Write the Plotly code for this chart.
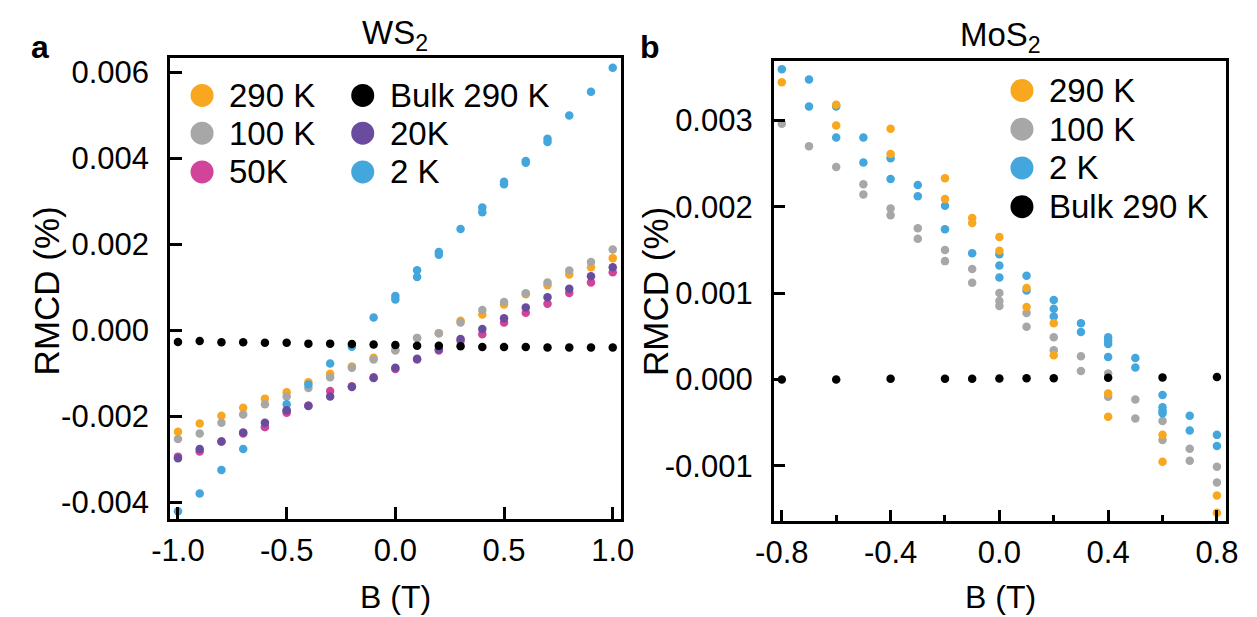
import plotly.graph_objects as go

W, H = 1257, 617
FONT = "Liberation Sans, Arial, Helvetica, sans-serif"

# ---------------- WS2 (panel a) ----------------
ws2_field = [-1.0, -0.9, -0.8, -0.7, -0.6, -0.5, -0.4, -0.3, -0.2, -0.1, 0.0,
             0.1, 0.2, 0.3, 0.4, 0.5, 0.6, 0.7, 0.8, 0.9, 1.0]
ws2_290K = [-0.00236, -0.00217, -0.00199, -0.00180, -0.00159, -0.00144, -0.00121,
            -0.00101, -0.00084, -0.00064, -0.00045, -0.00018, -0.00007, 0.00022,
            0.00037, 0.00060, 0.00084, 0.00105, 0.00130, 0.00147, 0.00168]
ws2_100K = [-0.00253, -0.00240, -0.00215, -0.00196, -0.00172, -0.00154, -0.00134,
            -0.00109, -0.00087, -0.00068, -0.00047, -0.00018, -0.00007, 0.00018,
            0.00047, 0.00066, 0.00086, 0.00111, 0.00139, 0.00159, 0.00188]
ws2_50K = [-0.00294, -0.00282, -0.00259, -0.00240, -0.00225, -0.00192, -0.00175,
           -0.00141, -0.00130, -0.00109, -0.00090, -0.00068, -0.00047, -0.00024,
           -0.00009, 0.00018, 0.00041, 0.00062, 0.00087, 0.00111, 0.00135]
ws2_20K = [-0.00298, -0.00276, -0.00259, -0.00238, -0.00215, -0.00186, -0.00176,
           -0.00154, -0.00132, -0.00111, -0.00087, -0.00066, -0.00044, -0.00020,
           0.00003, 0.00028, 0.00053, 0.00077, 0.00097, 0.00126, 0.00147]
ws2_bulk = [-0.00027, -0.00025, -0.00028, -0.00028, -0.00029, -0.00029, -0.00031,
            -0.00031, -0.00032, -0.00033, -0.00034, -0.00036, -0.00036, -0.00037,
            -0.00039, -0.00039, -0.00039, -0.00040, -0.00040, -0.00040, -0.00040]
ws2_2K_field = [-1.0, -0.9, -0.8, -0.7, -0.6, -0.5, -0.5, -0.4, -0.3, -0.2, -0.1,
                0.0, 0.0, 0.1, 0.1, 0.2, 0.2, 0.3, 0.4, 0.4, 0.5, 0.5, 0.6, 0.6,
                0.7, 0.7, 0.8, 0.9, 1.0]
ws2_2K = [-0.00421, -0.00380, -0.00325, -0.00276, -0.00225, -0.00172, -0.00188,
          -0.00126, -0.00077, -0.00038, 0.00030, 0.00080, 0.00072, 0.00140,
          0.00124, 0.00182, 0.00176, 0.00236, 0.00286, 0.00275, 0.00346,
          0.00340, 0.00394, 0.00390, 0.00446, 0.00438, 0.00500, 0.00555, 0.00611]

ws2_yticks = [-0.004, -0.002, 0.0, 0.002, 0.004, 0.006]
ws2_yticklabels = ["-0.004", "-0.002", "0.000", "0.002", "0.004", "0.006"]
ws2_xticks = [-1.0, -0.5, 0.0, 0.5, 1.0]
ws2_xticklabels = ["-1.0", "-0.5", "0.0", "0.5", "1.0"]

# ---------------- MoS2 (panel b) ----------------
mos2_290K_field = [-0.8, -0.6, -0.6, -0.4, -0.4, -0.2, -0.2, -0.1, -0.1, 0.0, 0.0,
                   0.1, 0.1, 0.2, 0.2, 0.4, 0.4, 0.6, 0.6, 0.8, 0.8]
mos2_290K = [0.00344, 0.00318, 0.00294, 0.00290, 0.00261, 0.00233, 0.00209,
             0.00187, 0.00181, 0.00165, 0.00149, 0.00106, 0.00084, 0.00065,
             0.00028, -0.00016, -0.00043, -0.00064, -0.00095, -0.00134, -0.00154]
mos2_100K_field = [-0.8, -0.7, -0.6, -0.5, -0.5, -0.4, -0.4, -0.3, -0.3, -0.2, -0.2,
                   -0.1, -0.1, 0.0, 0.0, 0.0, 0.1, 0.1, 0.2, 0.2, 0.3, 0.3, 0.4, 0.4,
                   0.5, 0.5, 0.6, 0.6, 0.7, 0.7, 0.8, 0.8]
mos2_100K = [0.00296, 0.00270, 0.00246, 0.00226, 0.00214, 0.00198, 0.00190,
             0.00175, 0.00163, 0.00150, 0.00137, 0.00128, 0.00112, 0.00100,
             0.00091, 0.00085, 0.00077, 0.00061, 0.00049, 0.00034, 0.00027,
             0.00010, 0.00007, -0.00020, -0.00023, -0.00045, -0.00048, -0.00070,
             -0.00080, -0.00094, -0.00101, -0.00119]
mos2_2K_field = [-0.8, -0.7, -0.7, -0.6, -0.6, -0.5, -0.5, -0.4, -0.4, -0.3, -0.3,
                 -0.2, -0.2, -0.1, 0.0, 0.0, 0.0, 0.1, 0.1, 0.2, 0.2, 0.2, 0.3, 0.3,
                 0.4, 0.4, 0.4, 0.4, 0.5, 0.5, 0.6, 0.6, 0.6, 0.6, 0.7, 0.7, 0.8, 0.8]
mos2_2K = [0.00359, 0.00347, 0.00316, 0.00316, 0.00280, 0.00280, 0.00251,
           0.00256, 0.00232, 0.00225, 0.00212, 0.00201, 0.00174, 0.00146,
           0.00145, 0.00132, 0.00118, 0.00120, 0.00103, 0.00092, 0.00082,
           0.00073, 0.00065, 0.00055, 0.00049, 0.00045, 0.00041, 0.00026,
           0.00025, 0.00014, -0.00018, -0.00032, -0.00036, -0.00039, -0.00042,
           -0.00059, -0.00064, -0.00077]
mos2_bulk_field = [-0.8, -0.6, -0.4, -0.2, -0.1, 0.0, 0.1, 0.2, 0.4, 0.6, 0.8]
mos2_bulk = [0.000000, 0.000000, 0.000008, 0.000008, 0.000010, 0.000012,
             0.000015, 0.000015, 0.000020, 0.000023, 0.000030]

mos2_yticks = [-0.001, 0.0, 0.001, 0.002, 0.003]
mos2_yticklabels = ["-0.001", "0.000", "0.001", "0.002", "0.003"]
mos2_xticks = [-0.8, -0.4, 0.0, 0.4, 0.8]
mos2_xticklabels = ["-0.8", "-0.4", "0.0", "0.4", "0.8"]
mos2_xminor = [-0.6, -0.2, 0.2, 0.6]

COLORS = {
    "290 K": "#F9A71E",
    "100 K": "#A7A7A7",
    "50K": "#D2449A",
    "20K": "#6A4C9E",
    "2 K": "#43A6DC",
    "Bulk 290 K": "#000000",
}

MARKER_SIZE = 8.5

fig = go.Figure()


def add_series(x, y, name, xa, ya):
    fig.add_trace(go.Scatter(
        x=x, y=y, mode="markers", name=name, showlegend=False,
        xaxis=xa, yaxis=ya,
        marker=dict(size=MARKER_SIZE, color=COLORS[name], line=dict(width=0)),
    ))


# panel a
add_series(ws2_field, ws2_290K, "290 K", "x", "y")
add_series(ws2_field, ws2_100K, "100 K", "x", "y")
add_series(ws2_2K_field, ws2_2K, "2 K", "x", "y")
add_series(ws2_field, ws2_50K, "50K", "x", "y")
add_series(ws2_field, ws2_20K, "20K", "x", "y")
add_series(ws2_field, ws2_bulk, "Bulk 290 K", "x", "y")

# panel b
add_series(mos2_100K_field, mos2_100K, "100 K", "x2", "y2")
add_series(mos2_2K_field, mos2_2K, "2 K", "x2", "y2")
add_series(mos2_290K_field, mos2_290K, "290 K", "x2", "y2")
add_series(mos2_bulk_field, mos2_bulk, "Bulk 290 K", "x2", "y2")


def px(x):
    return x / W


def py(y):
    return 1 - y / H


axis_style = dict(
    showline=True, linewidth=2.5, linecolor="black", mirror=True,
    ticks="inside", ticklen=12, tickwidth=2.5, tickcolor="black",
    showgrid=False, zeroline=False,
    tickfont=dict(family=FONT, size=31, color="black"),
)

fig.update_layout(
    width=W, height=H,
    margin=dict(l=0, r=0, t=0, b=0),
    paper_bgcolor="white", plot_bgcolor="white",
    font=dict(family=FONT, color="black"),
    xaxis=dict(domain=[px(155), px(618)], range=[-1.037, 1.037], anchor="y",
               tickvals=ws2_xticks, ticktext=ws2_xticklabels,
               ticklabelstandoff=2, **axis_style),
    yaxis=dict(domain=[py(519.3), py(55.7)], range=[-0.00439, 0.00633], anchor="x",
               tickvals=ws2_yticks, ticktext=ws2_yticklabels,
               ticklabelstandoff=12, **axis_style),
    xaxis2=dict(domain=[px(775), px(1240)], range=[-0.830, 0.835], anchor="y2",
                tickvals=mos2_xticks, ticktext=mos2_xticklabels,
                minor=dict(tickvals=mos2_xminor, ticks="inside", ticklen=7,
                           tickwidth=2.5, tickcolor="black"),
                ticklabelstandoff=2, **axis_style),
    yaxis2=dict(domain=[py(521.7), py(58.3)], range=[-0.00164, 0.003686], anchor="x2",
                tickvals=mos2_yticks, ticktext=mos2_yticklabels,
                ticklabelstandoff=12, **axis_style),
    showlegend=False,
)

annotations = []
shapes = []


def text(x, y, s, size, **kw):
    annotations.append(dict(
        x=px(x), y=py(y), xref="paper", yref="paper", text=s, showarrow=False,
        font=dict(family=FONT, size=size, color="black"), **kw))


# panel titles, letters and axis titles
text(386.5, 55, "WS<sub>2</sub>", 33, xanchor="center", yanchor="bottom")
text(1007.5, 57, "MoS<sub>2</sub>", 33, xanchor="center", yanchor="bottom")
text(22, 44, "<b>a</b>", 32, xanchor="center", yanchor="middle")
text(648, 44, "<b>b</b>", 32, xanchor="center", yanchor="middle")
text(387, 598, "B (T)", 32, xanchor="center", yanchor="middle")
text(1008, 598, "B (T)", 32, xanchor="center", yanchor="middle")
text(28, 290, "RMCD (%)", 35, xanchor="center", yanchor="middle", textangle=-90)
text(653, 290, "RMCD (%)", 35, xanchor="center", yanchor="middle", textangle=-90)

# key entries: (label, dot centre x, dot centre y, text start x)
ws2_key = [("290 K", 188, 93, 214), ("100 K", 188, 131, 214), ("50K", 188, 170, 214),
           ("Bulk 290 K", 353, 93, 379), ("20K", 353, 131, 379), ("2 K", 353, 170, 379)]
mos2_key = [("290 K", 1030, 88, 1056), ("100 K", 1030, 127, 1056),
            ("2 K", 1030, 166, 1056), ("Bulk 290 K", 1030, 205, 1056)]

DOT_R = 11.5
for label, cx, cy, tx in ws2_key + mos2_key:
    shapes.append(dict(
        type="circle", xref="paper", yref="paper",
        xsizemode="pixel", ysizemode="pixel",
        xanchor=px(cx), yanchor=py(cy),
        x0=-DOT_R, x1=DOT_R, y0=-DOT_R, y1=DOT_R,
        fillcolor=COLORS[label], line=dict(width=0)))
    text(tx, cy, label, 33, xanchor="left", yanchor="middle")

fig.update_layout(annotations=annotations, shapes=shapes)

fig.write_html("out.html")
